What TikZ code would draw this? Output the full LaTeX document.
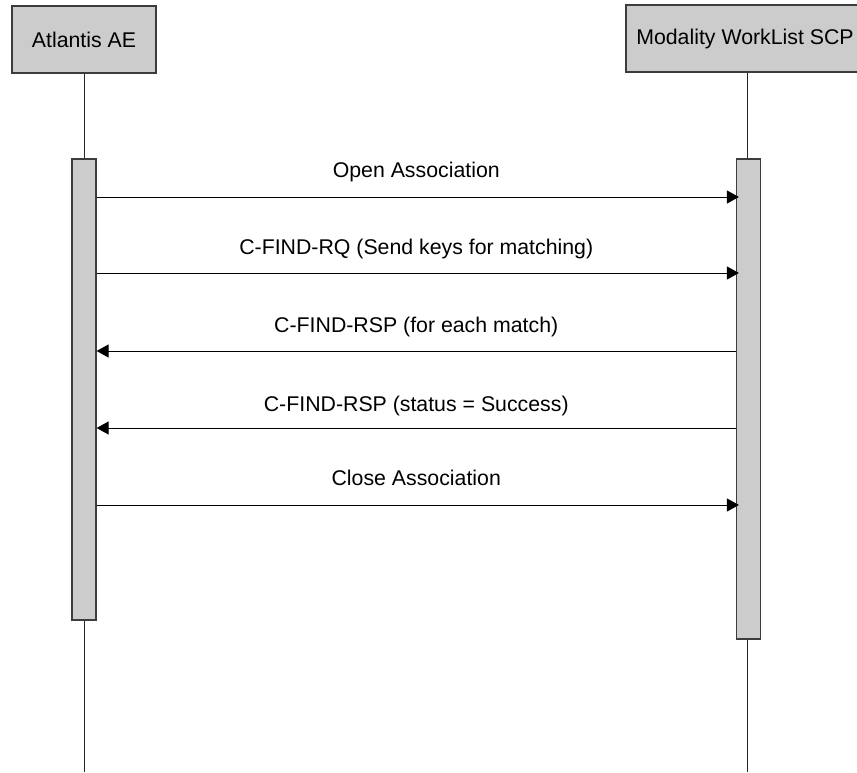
\documentclass[tikz,border=0pt]{standalone}
\usepackage{fontspec}
\setmainfont{Liberation Sans}
\usetikzlibrary{arrows.meta}
\definecolor{boxgray}{HTML}{CCCCCC}
\definecolor{edgegray}{HTML}{3C3C3C}
\begin{document}
\begin{tikzpicture}[x=1pt,y=-1pt,
  actor/.style={draw=edgegray,line width=1.2pt,fill=boxgray,rectangle,inner sep=0pt,
    font=\fontsize{21.3}{24}\selectfont},
  activation/.style={draw=edgegray,line width=1.2pt,fill=boxgray,rectangle,inner sep=0pt,minimum width=24pt},
  lifeline/.style={draw=black!85,line width=1pt},
  msg/.style={draw=black,line width=1pt,-{Triangle[length=12pt,width=13pt]}},
  callmsg/.style={msg,shorten >=-3pt},
  msglabel/.style={font=\fontsize{21.3}{24}\selectfont,inner sep=0pt,anchor=base}]
\useasboundingbox (0,0) rectangle (857,772);
% participants (the right box runs past the page edge)
\node[actor,minimum width=144pt,minimum height=67pt] (ae) at (84,39.5) {Atlantis AE};
\node[actor,minimum width=238pt,minimum height=67pt] (scp) at (745,38.5) {Modality WorkList SCP};
% lifelines down to the bottom edge
\coordinate (aeEnd) at (84,772);
\coordinate (scpEnd) at (747,772);
\draw[lifeline] (ae.south -| aeEnd) -- (aeEnd);
\draw[lifeline] (scp.south -| scpEnd) -- (scpEnd);
% activation bars
\node[activation,minimum height=461pt] (aeAct) at (84,389.5) {};
\node[activation,minimum height=480pt] (scpAct) at (748.5,399) {};
% messages, labels sit on their baseline above the arrow
\draw[callmsg] (aeAct.east |- 0,197) -- (scpAct.west |- 0,197)
  node[msglabel,midway,yshift=19.5pt] {Open Association};
\draw[callmsg] (aeAct.east |- 0,273) -- (scpAct.west |- 0,273)
  node[msglabel,midway,yshift=18.5pt] {C-FIND-RQ (Send keys for matching)};
\draw[msg] (scpAct.west |- 0,351) -- (aeAct.east |- 0,351)
  node[msglabel,midway,yshift=18.5pt] {C-FIND-RSP (for each match)};
\draw[msg] (scpAct.west |- 0,428) -- (aeAct.east |- 0,428)
  node[msglabel,midway,yshift=17pt] {C-FIND-RSP (status = Success)};
\draw[callmsg] (aeAct.east |- 0,505) -- (scpAct.west |- 0,505)
  node[msglabel,midway,yshift=19.5pt] {Close Association};
\end{tikzpicture}
\end{document}
